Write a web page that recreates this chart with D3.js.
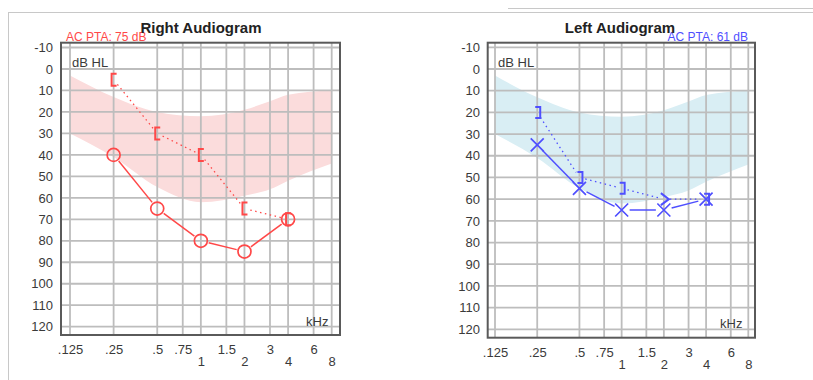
<!DOCTYPE html>
<html>
<head>
<meta charset="utf-8">
<script src="https://cdn.jsdelivr.net/npm/d3@7"></script>
<style>
  body { margin: 0; background: #fff; }
  svg text { font-family: "Liberation Sans", Arial, sans-serif; }
</style>
</head>
<body>
<div id="chart"></div>
<script>
// ---- data ----
var testFreqs = [0.25, 0.5, 1, 2, 4];
var rightAC = [40, 65, 80, 85, 70];
var rightBC = [5, 30, 40, 65, 70];
var leftAC = [35, 55, 65, 65, 60];
var leftBC = [20, 50, 55, 60, 60];
var leftBCSymbols = ["]", "]", "]", ">", "]"];
var rightBCSymbols = ["[", "[", "[", "[", "["];

var bandFreqs = [0.125, 0.25, 0.5, 1, 2, 3, 4, 8];
var bandUpper = [3, 13, 20, 22, 19, 15, 12, 10];
var bandLower = [30, 41, 55, 62, 59, 56, 52, 44];

var gridFreqs = [0.125, 0.25, 0.5, 0.75, 1, 1.5, 2, 3, 4, 6, 8];
var freqLabels = [".125", ".25", ".5", ".75", "1", "1.5", "2", "3", "4", "6", "8"];
var lowRowFreqs = [1, 2, 4, 8];
var dbTicks = [-10, 0, 10, 20, 30, 40, 50, 60, 70, 80, 90, 100, 110, 120];

var svg = d3.select("#chart").append("svg")
  .attr("width", 813).attr("height", 380);

// page frame lines
svg.append("line").attr("x1", 8).attr("x2", 813).attr("y1", 12.5).attr("y2", 12.5)
  .attr("stroke", "#c8c8c8").attr("stroke-width", 1);
svg.append("line").attr("x1", 8.5).attr("x2", 8.5).attr("y1", 12).attr("y2", 380)
  .attr("stroke", "#c8c8c8").attr("stroke-width", 1);
svg.append("line").attr("x1", 508).attr("x2", 813).attr("y1", 8.5).attr("y2", 8.5)
  .attr("stroke", "#c8c8c8").attr("stroke-width", 1);

var charts = [
  { title: "Right Audiogram", titleX: 201, pta: "AC PTA: 75 dB", ptaX: 66, ptaAnchor: "start",
    color: "#ff4848", band: "#fbdcdc",
    box: [61, 42.7, 340, 335], xr: [70, 331.7], yr: [47.5, 326.7], labPad: 8,
    xPad1: 10, xPad2: 22, kHz: [306, 321], dbhl: [72, 62],
    ac: rightAC, bc: rightBC, bcSym: rightBCSymbols, acSym: "o" },
  { title: "Left Audiogram", titleX: 620, pta: "AC PTA: 61 dB", ptaX: 748, ptaAnchor: "end",
    color: "#4f4fff", band: "#d9eef4",
    box: [487.7, 42.7, 755, 337.7], xr: [495, 748.3], yr: [47.3, 329.3], labPad: 7.7,
    xPad1: 10, xPad2: 22, kHz: [720, 323], dbhl: [498, 62],
    ac: leftAC, bc: leftBC, bcSym: leftBCSymbols, acSym: "x" }
];

// trimmed segment between two points
function segments(pts, gap) {
  var out = [];
  for (var i = 0; i < pts.length - 1; i++) {
    var a = pts[i], b = pts[i + 1];
    var dx = b[0] - a[0], dy = b[1] - a[1];
    var len = Math.sqrt(dx * dx + dy * dy);
    if (len <= gap * 2) continue;
    var ux = dx / len, uy = dy / len;
    out.push([a[0] + ux * gap, a[1] + uy * gap, b[0] - ux * gap, b[1] - uy * gap]);
  }
  return out;
}

charts.forEach(function(c) {
  var g = svg.append("g");
  var x = d3.scaleLog().base(2).domain([0.125, 8]).range(c.xr);
  var y = d3.scaleLinear().domain([-10, 120]).range(c.yr);
  var b = c.box;

  // clip to box
  var clipId = "clip" + c.titleX;
  g.append("clipPath").attr("id", clipId).append("rect")
    .attr("x", b[0]).attr("y", b[1]).attr("width", b[2] - b[0]).attr("height", b[3] - b[1]);

  // speech band
  var bandData = bandFreqs.map(function(f, i) { return { f: f, u: bandUpper[i], l: bandLower[i] }; });
  g.append("path")
    .datum(bandData)
    .attr("fill", c.band)
    .attr("d", d3.area()
      .curve(d3.curveMonotoneX)
      .x(function(d) { return x(d.f); })
      .y0(function(d) { return y(d.u); })
      .y1(function(d) { return y(d.l); }));

  // grid
  g.append("g").selectAll("line").data(gridFreqs).join("line")
    .attr("x1", function(d) { return x(d); }).attr("x2", function(d) { return x(d); })
    .attr("y1", b[1]).attr("y2", b[3])
    .attr("stroke", "#bdbdbd").attr("stroke-width", 1.8);
  g.append("g").selectAll("line").data(dbTicks).join("line")
    .attr("x1", b[0]).attr("x2", b[2])
    .attr("y1", function(d) { return y(d); }).attr("y2", function(d) { return y(d); })
    .attr("stroke", "#bdbdbd").attr("stroke-width", 1.8);

  g.append("rect")
    .attr("x", b[0]).attr("y", b[1]).attr("width", b[2] - b[0]).attr("height", b[3] - b[1])
    .attr("fill", "none").attr("stroke", "#5a5a5a").attr("stroke-width", 2);

  // y axis
  var ya = g.append("g").attr("transform", "translate(" + b[0] + ",0)")
    .call(d3.axisLeft(y).tickValues(dbTicks).tickFormat(function(d) { return String(d); })
      .tickSize(0).tickPadding(c.labPad));

  // x axis, two rows of labels
  var fmt = function(d) { return freqLabels[gridFreqs.indexOf(d)]; };
  var topRow = gridFreqs.filter(function(f) { return lowRowFreqs.indexOf(f) < 0; });
  var xa1 = g.append("g").attr("transform", "translate(0," + b[3] + ")")
    .call(d3.axisBottom(x).tickValues(topRow).tickFormat(fmt).tickSize(0).tickPadding(c.xPad1));
  var xa2 = g.append("g").attr("transform", "translate(0," + b[3] + ")")
    .call(d3.axisBottom(x).tickValues(lowRowFreqs).tickFormat(fmt).tickSize(0).tickPadding(c.xPad2));
  [ya, xa1, xa2].forEach(function(a) {
    a.select(".domain").remove();
    a.selectAll("text").attr("font-size", 13).attr("fill", "#3a3a3a")
      .style("font-family", "'Liberation Sans', Arial, sans-serif");
  });

  g.append("text").attr("x", c.dbhl[0]).attr("y", c.dbhl[1]).attr("dy", "0.35em")
    .attr("font-size", 13).attr("fill", "#3a3a3a").text("dB HL");
  g.append("text").attr("x", c.kHz[0]).attr("y", c.kHz[1]).attr("dy", "0.35em")
    .attr("font-size", 13).attr("fill", "#3a3a3a").text("kHz");

  var marks = g.append("g").attr("clip-path", "url(#" + clipId + ")");

  // air conduction
  var acPts = testFreqs.map(function(f, i) { return [x(f), y(c.ac[i])]; });
  marks.selectAll("line.ac").data(segments(acPts, 8)).join("line")
    .attr("class", "ac")
    .attr("x1", function(s) { return s[0]; }).attr("y1", function(s) { return s[1]; })
    .attr("x2", function(s) { return s[2]; }).attr("y2", function(s) { return s[3]; })
    .attr("stroke", c.color).attr("stroke-width", 1.5);

  // bone conduction
  var bcPts = testFreqs.map(function(f, i) { return [x(f), y(c.bc[i])]; });
  marks.selectAll("line.bc").data(segments(bcPts, 6)).join("line")
    .attr("class", "bc")
    .attr("x1", function(s) { return s[0]; }).attr("y1", function(s) { return s[1]; })
    .attr("x2", function(s) { return s[2]; }).attr("y2", function(s) { return s[3]; })
    .attr("stroke", c.color).attr("stroke-width", 1.3).attr("stroke-dasharray", "1.5,3.5");

  // AC symbols
  acPts.forEach(function(p) {
    if (c.acSym === "o") {
      marks.append("circle").attr("cx", p[0]).attr("cy", p[1]).attr("r", 6.5)
        .attr("fill", "none").attr("stroke", c.color).attr("stroke-width", 1.7);
    } else {
      marks.append("path")
        .attr("d", "M" + (p[0] - 6.5) + "," + (p[1] - 6.5) + "L" + (p[0] + 6.5) + "," + (p[1] + 6.5) +
                   "M" + (p[0] + 6.5) + "," + (p[1] - 6.5) + "L" + (p[0] - 6.5) + "," + (p[1] + 6.5))
        .attr("stroke", c.color).attr("stroke-width", 1.7).attr("fill", "none");
    }
  });

  // BC symbols
  bcPts.forEach(function(p, i) {
    var s = c.bcSym[i], d;
    var px = p[0], py = p[1];
    if (s === "[") d = "M" + (px + 3) + "," + (py - 6) + "H" + (px - 2) + "V" + (py + 6) + "H" + (px + 3);
    else if (s === "]") d = "M" + (px - 2) + "," + (py - 5.5) + "H" + (px + 3) + "V" + (py + 5.5) + "H" + (px - 2);
    else d = "M" + (px - 3) + "," + (py - 6) + "L" + (px + 5) + "," + py + "L" + (px - 3) + "," + (py + 6);
    marks.append("path").attr("d", d).attr("fill", "none")
      .attr("stroke", c.color).attr("stroke-width", 2);
  });

  // PTA label then title on top
  g.append("text").attr("x", c.ptaX).attr("y", 37).attr("dy", "0.35em")
    .attr("text-anchor", c.ptaAnchor).attr("font-size", 12).attr("fill", c.color)
    .text(c.pta);
  g.append("text").attr("x", c.titleX).attr("y", 28).attr("dy", "0.35em")
    .attr("text-anchor", "middle").attr("font-size", 15).attr("font-weight", "bold")
    .attr("fill", "#222").text(c.title);
});
</script>
</body>
</html>
